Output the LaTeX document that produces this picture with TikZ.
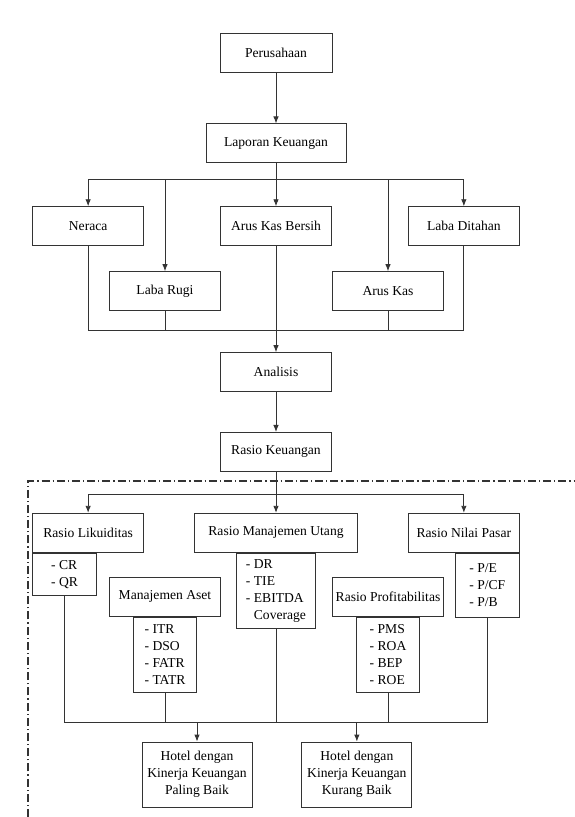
\documentclass[tikz,border=0pt]{standalone}
\usepackage{fontspec}
\setmainfont{Liberation Serif}
\usetikzlibrary{
arrows.meta,
calc,
positioning
}
\tikzset{>={Latex[length=7pt,width=5.5pt]}}

\begin{document}
\begin{tikzpicture}[x=1pt, y=1pt, line width=0.85pt, color=black!80,
		every node/.style={font=\fontsize{13.6pt}{17pt}\selectfont, text=black},
		box/.style={draw, minimum width=111pt, minimum height=39pt, inner sep=2pt},
		listbox/.style={draw, align=left, inner sep=2pt},
		frameline/.style={line width=1.1pt, dash pattern=on 8pt off 3pt on 1.2pt off 3pt}]
		\useasboundingbox (0,0) rectangle (575,-817);

		\node[box,minimum width=112pt] (perusahaan) at (276,-52.5) {Perusahaan};
		\node[box,minimum width=140pt,below=51pt of perusahaan] (laporan) {Laporan Keuangan};
		\node[box,below=43pt of laporan] (aksb) {Arus Kas Bersih};
		\node[box,left=76pt of aksb] (neraca) {Neraca};
		\node[box,right=76pt of aksb] (ditahan) {Laba Ditahan};
		\node[box,below right=25pt and -35pt of neraca] (rugi) {Laba Rugi};
		\node[box,below left=25pt and -36pt of ditahan] (aruskas) {Arus Kas};
		\node[box,below=106pt of aksb] (analisis) {Analisis};
		\node[box,below=40pt of analisis] (rasio) {Rasio Keuangan};

		\node[box,minimum width=163pt,below=41pt of rasio] (utang) {Rasio Manajemen Utang};
		\node[box,left=50pt of utang] (likuid) {Rasio Likuiditas};
		\node[box,right=50pt of utang] (pasar) {Rasio Nilai Pasar};
		\node[listbox,anchor=north west,minimum width=64pt,minimum height=42pt] (likuidlist) at (likuid.south west) {- CR\\- QR};
		\node[box,below right=24pt and -35pt of likuid] (aset) {Manajemen Aset};
		\node[listbox,anchor=north,minimum width=63pt,minimum height=75pt] (asetlist) at (aset.south) {- ITR\\- DSO\\- FATR\\- TATR};
		\node[listbox,anchor=north,minimum width=79pt,minimum height=75pt] (utanglist) at (utang.south) {- DR\\- TIE\\- EBITDA\\\phantom{- }Coverage};
		\node[box,below left=24pt and -36pt of pasar] (profit) {Rasio Profitabilitas};
		\node[listbox,anchor=north,minimum width=63pt,minimum height=75pt] (profitlist) at (profit.south) {- PMS\\- ROA\\- BEP\\- ROE};
		\node[listbox,anchor=north east,minimum width=64pt,minimum height=64pt] (pasarlist) at (pasar.south east) {- P/E\\- P/CF\\- P/B};

		\node[box,minimum width=110pt,minimum height=65pt,align=center] (baik) at (197,-774.5) {Hotel dengan\\Kinerja Keuangan\\Paling Baik};
		\node[box,minimum width=110pt,minimum height=65pt,align=center,right=49pt of baik] (kurang) {Hotel dengan\\Kinerja Keuangan\\Kurang Baik};

		% laporan keuangan to the reports
		\coordinate[below=16pt of laporan] (lapbus);
		\draw (lapbus -| neraca) -- (lapbus -| ditahan);
		\draw[->] (perusahaan.south) -- (laporan.north);
		\draw[->] (laporan.south) -- (aksb.north);
		\draw[->] (lapbus -| neraca) -- (neraca.north);
		\draw[->] (lapbus -| rugi) -- (rugi.north);
		\draw[->] (lapbus -| aruskas) -- (aruskas.north);
		\draw[->] (lapbus -| ditahan) -- (ditahan.north);

		% reports to analisis
		\coordinate[below=19pt of rugi] (rugibus);
		\draw (neraca.south) -- (neraca.south |- rugibus) -- (ditahan.south |- rugibus) -- (ditahan.south);
		\draw (rugi.south) -- (rugibus);
		\draw (aruskas.south) -- (aruskas.south |- rugibus);
		\draw[->] (aksb.south) -- (analisis.north);
		\draw[->] (analisis.south) -- (rasio.north);

		% rasio keuangan to the ratio groups
		\coordinate[below=23pt of rasio] (rasiobus);
		\draw (rasiobus -| likuid) -- (rasiobus -| pasar);
		\draw[->] (rasio.south) -- (utang.north);
		\draw[->] (rasiobus -| likuid) -- (likuid.north);
		\draw[->] (rasiobus -| pasar) -- (pasar.north);

		% ratios to the hotels
		\coordinate[below=30pt of asetlist] (hotelbus);
		\draw (likuidlist.south) -- (likuidlist.south |- hotelbus) -- (pasarlist.south |- hotelbus) -- (pasarlist.south);
		\draw (asetlist.south) -- (hotelbus);
		\draw (utanglist.south) -- (utanglist.south |- hotelbus);
		\draw (profitlist.south) -- (profitlist.south |- hotelbus);
		\draw[->] (hotelbus -| baik) -- (baik.north);
		\draw[->] (hotelbus -| kurang) -- (kurang.north);

		% dash-dot frame round the ratio part
		\coordinate (framecorner) at (28,-481);
		\draw[frameline] (framecorner |- 0,-817) -- (framecorner) -- (575,-481);
	\end{tikzpicture}
\end{document}
